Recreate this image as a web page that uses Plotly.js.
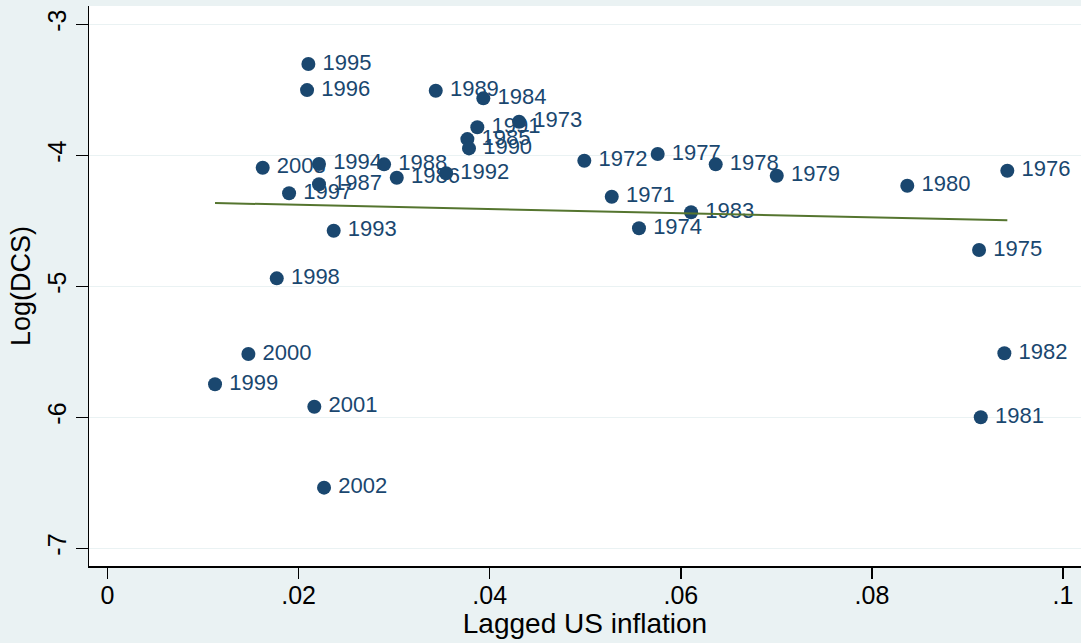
<!DOCTYPE html>
<html>
<head>
<meta charset="utf-8">
<script src="https://cdn.plot.ly/plotly-3.0.1.min.js"></script>
<style>html,body{margin:0;padding:0;background:#eaf2f3;}#chart{width:1081px;height:643px;}</style>
</head>
<body>
<div id="chart"></div>
<script>
const years = ["1995","1996","1989","1984","1973","1991","1985","1990","2003","1994","1988","1986","1992","1987","1997","1993","1998","2000","1999","2001","2002","1972","1977","1978","1979","1971","1983","1974","1980","1976","1975","1982","1981"];
const inflation = [0.02102,0.02088,0.03435,0.03933,0.04307,0.03870,0.03766,0.03783,0.01624,0.02213,0.02894,0.03027,0.03543,0.02213,0.01900,0.02367,0.01771,0.01474,0.01125,0.02164,0.02266,0.04990,0.05758,0.06365,0.07004,0.05277,0.06107,0.05562,0.08370,0.09417,0.09121,0.09386,0.09139];
const logDCS = [-3.303,-3.502,-3.507,-3.565,-3.744,-3.786,-3.876,-3.947,-4.095,-4.066,-4.069,-4.171,-4.137,-4.221,-4.290,-4.576,-4.939,-5.517,-5.748,-5.919,-6.537,-4.041,-3.990,-4.069,-4.156,-4.316,-4.435,-4.557,-4.232,-4.118,-4.723,-5.511,-6.000];
const fitX = [0.01125, 0.09417];
const fitY = [-4.364, -4.496];
const xTickVals = [0, 0.02, 0.04, 0.06, 0.08, 0.1];
const xTickText = ["0", ".02", ".04", ".06", ".08", ".1"];
const yTickVals = [-3, -4, -5, -6, -7];
const yTickText = ["-3", "-4", "-5", "-6", "-7"];

const navy = "#1a476f";
const traces = [
  {
    x: inflation, y: logDCS, text: years.map(t => "\u2009" + t),
    type: "scatter", mode: "markers+text",
    textposition: "middle right",
    marker: {color: navy, size: 14},
    textfont: {family: "Liberation Sans, Arial, sans-serif", size: 22, color: navy},
    cliponaxis: false,
    hoverinfo: "skip"
  },
  {
    x: fitX, y: fitY, type: "scatter", mode: "lines",
    line: {color: "#55752f", width: 2},
    hoverinfo: "skip"
  }
];
const layout = {
  width: 1081, height: 643,
  margin: {l: 89, r: 0, t: 6, b: 77},
  paper_bgcolor: "#eaf2f3",
  plot_bgcolor: "#ffffff",
  showlegend: false,
  font: {family: "Liberation Sans, Arial, sans-serif", color: "#000"},
  xaxis: {
    range: [-0.00194, 0.10188],
    tickvals: xTickVals, ticktext: xTickText,
    ticks: "outside", ticklen: 11, tickwidth: 1.5, tickcolor: "#000",
    ticklabelstandoff: -5,
    showgrid: false, zeroline: false,
    showline: true, linecolor: "#000", linewidth: 1.5,
    tickfont: {size: 25, color: "#000"},
    title: {text: "Lagged US inflation", font: {size: 28, color: "#000"}, standoff: 0}
  },
  yaxis: {
    range: [-7.135, -2.860],
    tickvals: yTickVals, ticktext: yTickText,
    tickangle: -90,
    ticks: "outside", ticklen: 12, tickwidth: 1.5, tickcolor: "#000",
    showgrid: true, gridcolor: "#eaf2f3", gridwidth: 1.5,
    zeroline: false,
    showline: true, linecolor: "#000", linewidth: 1.5,
    tickfont: {size: 25, color: "#000"},
    title: {text: "Log(DCS)", font: {size: 27, color: "#000"}, standoff: 4}
  }
};
Plotly.newPlot("chart", traces, layout, {displayModeBar: false, staticPlot: true});
</script>
</body>
</html>
